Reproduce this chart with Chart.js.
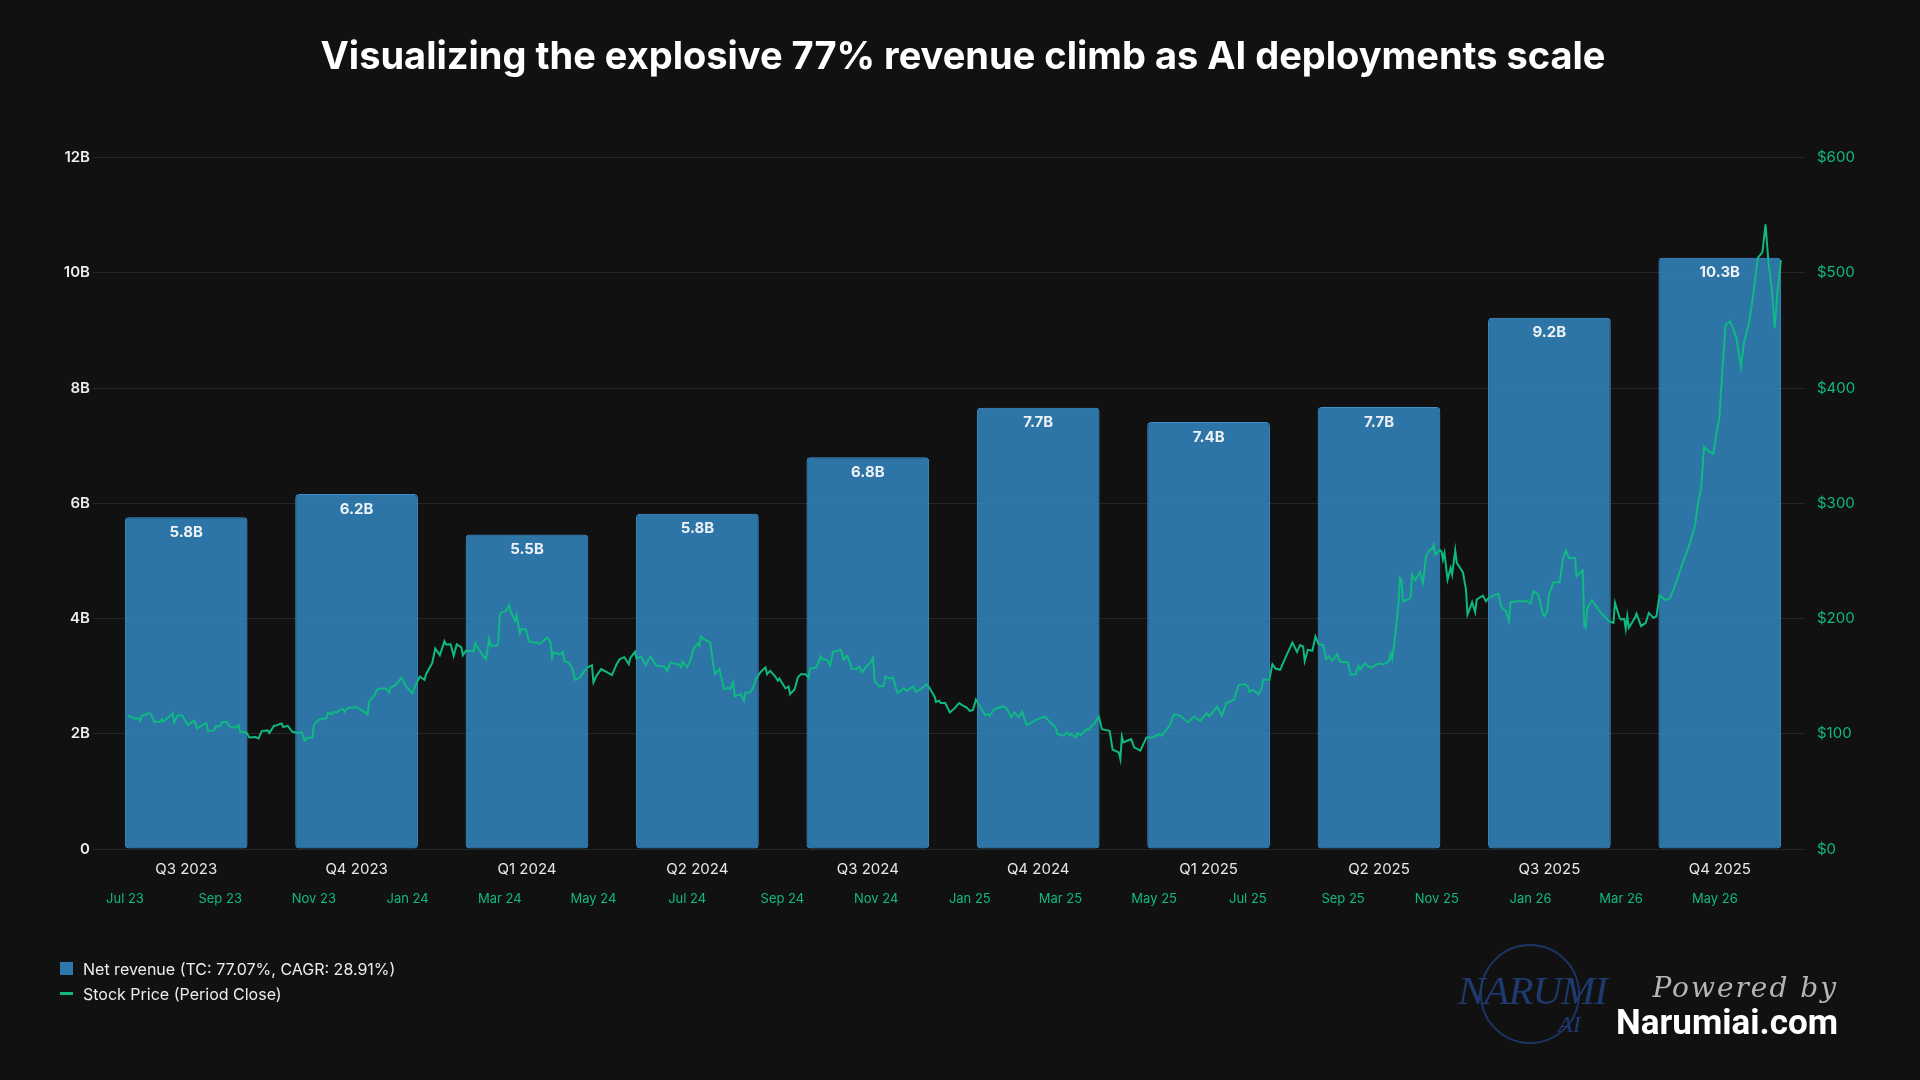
<!DOCTYPE html>
<html>
<head>
<meta charset="utf-8">
<title>Revenue vs stock price</title>
<script src="https://cdn.jsdelivr.net/npm/chart.js@4.4.1/dist/chart.umd.min.js"></script>
<style>
  html, body { margin: 0; padding: 0; background: #111111; }
  #wrap { position: relative; width: 1920px; height: 1080px; background: #111111; font-family: Inter, "Noto Sans", sans-serif; overflow: hidden; }
  #box { position: absolute; left: 0; top: 0; width: 1920px; height: 1080px; }
  .legend { position: absolute; left: 60px; top: 956px; color: #ececec; font-size: 16px; }
  .legend .item { display: flex; align-items: center; height: 25px; }
  .legend .sw-bar { width: 13px; height: 13px; background: #2e77ab; margin-right: 10px; }
  .legend .sw-line { width: 13px; height: 3px; background: #10b981; margin-right: 10px; }
  .logo-ring { position: absolute; left: 1480px; top: 944px; width: 96px; height: 96px; border: 2px solid #1d3566; border-radius: 50%; }
  .logo-narumi { position: absolute; left: 1458px; top: 970px; font-family: "Liberation Serif", serif; font-style: italic; font-size: 41px; line-height: 41px; color: #1f3a6e; letter-spacing: -1px; }
  .logo-ai { position: absolute; left: 1558px; top: 1012px; font-family: "Liberation Serif", serif; font-style: italic; font-size: 24px; line-height: 24px; color: #1f3a6e; }
  .powered { position: absolute; right: 82px; top: 970px; font-family: "DejaVu Serif", serif; font-style: italic; font-size: 28px; line-height: 36px; color: #b5b5b5; letter-spacing: 2px; }
  .site { position: absolute; right: 82px; top: 1005px; font-family: Roboto, sans-serif; font-weight: 700; font-size: 35px; line-height: 36px; color: #ffffff; }
</style>
</head>
<body>
<div id="wrap">
  <div id="box"><canvas id="chart1"></canvas></div>
  <div class="legend">
    <div class="item"><span class="sw-bar"></span><span id="lg0"></span></div>
    <div class="item"><span class="sw-line"></span><span id="lg1"></span></div>
  </div>
  <div class="logo-ring"></div>
  <div class="logo-narumi">NARUMI</div>
  <div class="logo-ai">AI</div>
  <div class="powered">Powered by</div>
  <div class="site">Narumiai.com</div>
</div>
<script>
const titleText = "Visualizing the explosive 77% revenue climb as AI deployments scale";
const seriesNames = ["Net revenue (TC: 77.07%, CAGR: 28.91%)", "Stock Price (Period Close)"];

// quarterly net revenue, billions
const quarters = ["Q3 2023", "Q4 2023", "Q1 2024", "Q2 2024", "Q3 2024", "Q4 2024", "Q1 2025", "Q2 2025", "Q3 2025", "Q4 2025"];
const revenue = [5.76, 6.16, 5.46, 5.82, 6.80, 7.66, 7.41, 7.67, 9.22, 10.26];

// stock close, x = days since 2023-07-01
const priceDay = [
  2, 6, 9, 10, 11, 16, 17, 19, 23, 24, 25, 30, 31, 32, 34, 37, 40, 41, 45, 47,
  51, 53, 54, 58, 59, 62, 63, 66, 68, 72, 74, 75, 79, 81, 85, 87, 89, 93, 94, 97,
  98, 100, 102, 103, 106, 109, 113, 115, 117, 119, 122, 123, 126, 129, 131, 132, 135, 136, 138, 140,
  142, 143, 145, 151, 153, 158, 159, 162, 164, 166, 170, 172, 173, 176, 180, 183, 187, 189,
  192, 195, 196, 200, 202, 205, 208, 209, 212, 214, 216, 219, 220, 222, 227, 228, 232, 235, 237, 238,
  242, 243, 244, 245, 248, 250, 251, 254, 255, 257, 258, 261, 263, 266, 268, 270, 275, 277, 278, 279,
  283, 285, 286, 289, 291, 292, 293, 296, 298, 301, 304, 305, 307, 310, 314, 317, 320, 322, 325, 326,
  328, 329, 332, 333, 336, 339, 342, 346, 351, 353, 355, 361, 362, 363, 366, 368, 370, 373, 374, 375,
  377, 381, 383, 384, 387, 390, 393, 394, 396, 397,
  401, 403, 404, 407, 409, 411, 414, 417, 418, 420, 423, 425, 426, 430, 432, 433, 436, 438, 440, 443,
  445, 446, 450, 453, 454, 457, 459, 461, 464, 466, 468, 470, 471, 473, 476, 478, 480, 482, 485, 487,
  488, 491, 494, 495, 498, 500, 502, 503, 507, 509, 513, 515, 518, 522, 524, 527, 528, 530, 531, 534,
  537, 540, 543, 545, 548, 550, 552, 554, 556, 560, 562, 563, 565, 567, 572, 574, 577, 579, 582, 584,
  587, 591, 594, 599,
  602, 604, 606, 607, 611, 613, 615, 616, 619, 620, 622, 626, 628, 629, 631, 634, 636, 641, 643, 647,
  648, 649, 650, 654, 655, 657, 661, 665, 669, 673, 675, 680, 683, 687, 692, 696, 700, 704, 706, 711,
  714, 717, 722, 725, 729, 731, 732, 734, 738, 740, 741, 745, 747, 749, 752, 756, 760, 763, 765, 767,
  768, 770, 773, 775, 777, 780, 782, 784, 786, 789, 791,
  796, 798, 801, 803, 804, 807, 811, 816, 819, 823, 824, 825, 827, 829, 830, 831, 832, 836, 837, 838,
  840, 843, 845, 847, 849, 851, 852, 853, 856, 857, 858, 859, 861, 863, 864, 866, 867, 871, 873, 874,
  877, 879, 880, 884, 886, 888, 894, 896, 899, 901, 902, 906, 913, 915, 917, 920, 923, 924, 926, 927,
  930, 934, 936, 938, 940, 944, 945, 949, 950, 951, 952, 955, 958, 960, 963, 964, 966, 969, 970, 973,
  974, 976, 977, 978, 979, 983, 984, 987, 990, 992, 995, 997, 999,
  1003, 1006, 1010, 1014, 1018, 1022, 1024, 1026, 1028, 1031, 1034, 1036, 1038, 1040, 1042, 1045, 1049, 1052, 1054, 1057,
  1060, 1063, 1066, 1068, 1070, 1072, 1074, 1076, 1078
];
const priceClose = [
  115.6, 113.3, 113.3, 111.3, 115.6, 117.9, 117.0, 110.4, 110.4, 112.7, 110.4, 116.2, 117.6, 109.8, 115.6, 116.2, 109.8, 107.5, 111.6, 104.6,
  108.1, 109.2, 102.3, 102.9, 106.4, 106.9, 109.8, 110.4, 106.4, 105.2, 107.5, 101.7, 101.2, 96.8, 97.1, 96.0, 102.3, 102.9, 100.6, 106.9,
  106.9, 108.1, 109.0, 105.8, 106.9, 101.7, 100.6, 101.2, 94.2, 96.5, 96.5, 107.5, 112.1, 113.3, 113.3, 117.9, 117.3, 119.1, 118.5, 120.8,
  121.4, 119.1, 122.5, 123.1, 121.4, 116.8, 128.3, 132.4, 138.2, 139.3, 139.3, 135.8, 140.2, 142.2, 148.6, 141.0, 135.3, 141.6,
  149.7, 146.8, 151.7, 161.3, 174.0, 168.2, 180.3, 177.5, 177.7, 167.6, 177.5, 174.9, 168.2, 172.0, 171.7, 178.6, 169.9, 164.7, 182.1, 176.3,
  176.3, 178.6, 202.9, 205.2, 206.4, 211.6, 206.4, 198.0, 202.9, 187.3, 190.8, 190.8, 180.3, 179.2, 179.2, 178.0, 183.5, 179.8, 165.9, 170.5,
  168.8, 171.1, 163.3, 161.3, 157.8, 152.6, 146.8, 148.8, 152.6, 157.5, 159.5, 144.5, 150.3, 156.1, 153.2, 150.9, 160.1, 164.7, 166.5, 164.7,
  160.4, 165.9, 171.1, 165.3, 167.1, 159.5, 167.1, 159.0, 158.4, 154.3, 161.8, 160.1, 157.8, 162.4, 157.8, 163.3, 173.4, 178.6, 176.3, 184.4,
  182.1, 179.2, 160.4, 151.7, 156.1, 138.7, 139.9, 138.7, 144.5, 132.4,
  134.4, 128.6, 135.8, 135.8, 140.2, 148.0, 153.8, 157.5, 151.7, 154.6, 150.3, 146.0, 148.0, 139.3, 141.0, 134.4, 138.7, 148.8, 151.7, 151.7,
  148.6, 156.6, 157.5, 167.1, 164.7, 164.2, 159.5, 171.1, 172.0, 172.8, 164.2, 167.6, 165.3, 156.6, 156.1, 158.4, 153.2, 157.5, 161.3, 165.9,
  146.0, 141.0, 141.6, 149.7, 148.0, 148.6, 139.3, 135.3, 139.3, 137.3, 141.0, 136.4, 138.7, 143.0, 139.3, 132.4, 127.7, 128.6, 126.6, 126.6,
  118.5, 122.0, 126.6, 124.9, 122.8, 119.9, 120.5, 129.5, 124.9, 116.2, 117.0, 115.6, 119.9, 121.9, 123.7, 121.9, 114.2, 118.5, 114.2, 119.1,
  107.5, 110.4, 112.7, 115.0,
  110.4, 108.4, 104.6, 99.7, 98.3, 101.2, 98.8, 100.0, 96.8, 100.6, 98.8, 104.0, 103.5, 106.9, 108.4, 115.0, 104.0, 102.6, 86.1, 83.8,
  78.0, 97.7, 92.5, 94.8, 95.4, 88.2, 85.3, 96.8, 96.8, 99.7, 98.3, 106.9, 117.0, 115.6, 109.8, 115.0, 111.0, 117.9, 115.0, 123.7,
  115.6, 126.6, 129.5, 142.2, 143.1, 141.0, 136.4, 138.2, 134.4, 139.3, 146.8, 146.8, 160.4, 156.6, 155.5, 167.6, 179.2, 171.1, 176.9, 175.7,
  163.0, 172.8, 172.0, 184.4, 177.7, 176.9, 164.7, 167.1, 163.3, 169.1, 162.4,
  162.1, 151.4, 151.4, 158.7, 155.8, 161.0, 157.2, 161.0, 160.1, 163.0, 169.4, 165.0, 186.1, 212.1, 235.3, 233.8, 215.0, 217.1, 218.8, 238.2,
  233.2, 240.2, 230.9, 254.0, 259.0, 260.4, 264.2, 255.5, 259.2, 258.4, 251.2, 256.9, 233.8, 243.9, 238.2, 259.2, 248.3, 240.2, 225.1, 203.5,
  214.2, 205.5, 216.5, 219.9, 215.0, 218.2, 221.7, 210.1, 206.4, 197.7, 214.2, 215.0, 215.0, 213.0, 223.7, 220.8, 204.3, 202.0, 206.4, 220.8,
  231.5, 231.5, 250.6, 259.2, 252.6, 252.6, 236.7, 241.9, 193.4, 191.9, 209.2, 215.9, 210.1, 206.4, 202.0, 200.6, 197.7, 196.2, 213.6, 200.6,
  199.1, 199.7, 191.0, 202.0, 191.9, 200.6, 204.3, 193.4, 196.2, 204.9, 200.6, 202.0, 219.9,
  216, 218, 232, 248, 262, 280, 300, 312, 349, 345, 343, 360, 375, 418, 455, 458, 444, 418, 440, 455,
  481, 513, 518, 542, 508, 487, 452, 487, 511
];

// bottom date axis
const tickDays = [0, 62, 123, 184, 244, 305, 366, 428, 489, 550, 609, 670, 731, 793, 854, 915, 974, 1035];
const tickNames = ["Jul 23", "Sep 23", "Nov 23", "Jan 24", "Mar 24", "May 24", "Jul 24", "Sep 24", "Nov 24", "Jan 25", "Mar 25", "May 25", "Jul 25", "Sep 25", "Nov 25", "Jan 26", "Mar 26", "May 26"];

document.getElementById("lg0").textContent = seriesNames[0];
document.getElementById("lg1").textContent = seriesNames[1];

Chart.defaults.font.family = 'Inter, "Noto Sans", sans-serif';

// value labels inside the bar tops
const barLabels = {
  id: "barLabels",
  afterDatasetsDraw(chart) {
    const meta = chart.getDatasetMeta(0);
    const c = chart.ctx;
    c.save();
    c.font = '700 15px Inter, "Noto Sans", sans-serif';
    c.fillStyle = "#eef2f6";
    c.textAlign = "center";
    c.textBaseline = "middle";
    meta.data.forEach((bar, i) => {
      c.fillText(revenue[i].toFixed(1) + "B", bar.x, bar.y + 15);
    });
    c.restore();
  }
};

const ctx = document.getElementById("chart1");
const chart = new Chart(ctx, {
  type: "bar",
  data: {
    labels: quarters,
    datasets: [
      {
        label: seriesNames[0],
        data: revenue,
        xAxisID: "x",
        yAxisID: "y",
        grouped: false,
        backgroundColor: "rgba(52,143,205,0.8)",
        borderColor: "rgba(66,160,225,0.9)",
        borderWidth: 1,
        borderRadius: 4,
        borderSkipped: false,
        order: 2,
      },
      {
        type: "line",
        label: seriesNames[1],
        data: priceDay.map((d, i) => ({ x: d, y: priceClose[i] })),
        xAxisID: "x2",
        yAxisID: "y1",
        borderColor: "#10b981",
        borderWidth: 2,
        pointRadius: 0,
        tension: 0,
        order: 1,
      },
    ],
  },
  options: {
    responsive: true,
    maintainAspectRatio: false,
    animation: false,
    layout: { padding: { left: 41, right: 35, top: 0, bottom: 171 } },
    scales: {
      x: {
        type: "category",
        position: "bottom",
        weight: 1,
        offset: true,
        grid: { display: false, drawTicks: false },
        border: { display: false },
        ticks: { color: "#e8e8e8", font: { size: 15 }, padding: 11, maxRotation: 0 },
        afterFit: (s) => { s.height = 30; },
      },
      x2: {
        type: "linear",
        position: "bottom",
        weight: 2,
        offset: false,
        bounds: "data",
        min: -15.6,
        max: 1093.7,
        grid: { display: false, drawTicks: false, offset: false },
        border: { display: false },
        afterBuildTicks: (s) => { s.ticks = tickDays.map((v) => ({ value: v })); },
        ticks: {
          color: "#10b981",
          font: { size: 13 },
          padding: 12,
          autoSkip: false,
          maxRotation: 0,
          callback: (v) => tickNames[tickDays.indexOf(v)],
        },
        afterFit: (s) => { s.height = 30; },
      },
      y: {
        position: "left",
        min: 0,
        max: 12,
        grid: { color: "#262626", tickLength: 8 },
        border: { display: false },
        ticks: {
          stepSize: 2,
          color: "#ececec",
          font: { size: 15, weight: "600" },
          callback: (v) => (v === 0 ? "0" : v + "B"),
        },
        afterFit: (s) => { s.width = 60; },
      },
      y1: {
        position: "right",
        min: 0,
        max: 600,
        grid: { display: false, drawTicks: false },
        border: { display: false },
        ticks: {
          stepSize: 100,
          color: "#10b981",
          font: { size: 15 },
          padding: 12,
          callback: (v) => "$" + v,
        },
        afterFit: (s) => { s.width = 80; },
      },
    },
    plugins: {
      legend: { display: false },
      tooltip: { enabled: false },
      title: {
        display: true,
        text: titleText,
        color: "#ffffff",
        font: { size: 38, weight: "bold" },
        padding: { top: 35, bottom: 77 },
      },
    },
  },
  plugins: [barLabels],
});
</script>
</body>
</html>
